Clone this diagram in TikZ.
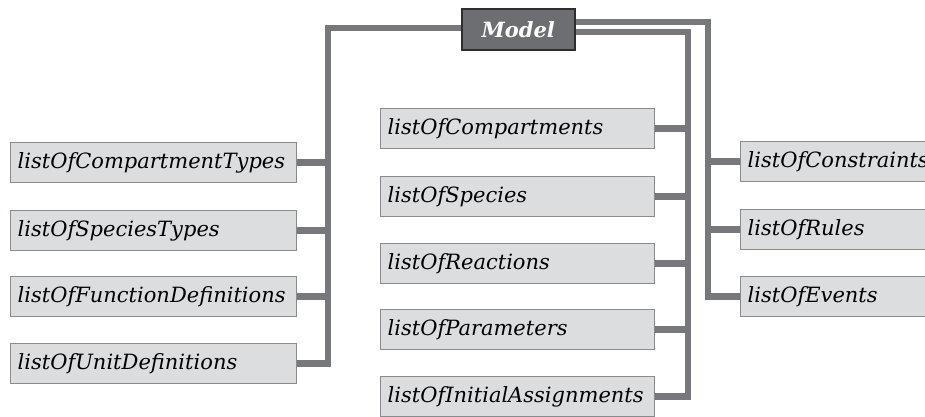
\documentclass[tikz,border=0pt]{standalone}
\usepackage{fontspec}
\newfontfamily\boxfont{DejaVu Serif}
\definecolor{busgray}{HTML}{77787B}
\definecolor{boxfill}{HTML}{DCDDDE}
\definecolor{boxline}{HTML}{8A8B8D}
\definecolor{modelfill}{HTML}{6D6E71}
\definecolor{modelline}{HTML}{2E2E2E}
\tikzset{
  lbox/.style={draw=boxline, fill=boxfill, line width=1.3pt, minimum height=40pt,
    inner xsep=7pt, inner ysep=0pt, align=left, anchor=north west,
    font=\boxfont\itshape\fontsize{21}{24}\selectfont},
  conn/.style={draw=busgray, line width=6.5pt, line join=miter},
  modelbox/.style={draw=modelline, fill=modelfill, line width=1.5pt,
    minimum width=113pt, minimum height=41pt, anchor=north west, inner sep=0pt,
    text=white, font=\boxfont\bfseries\itshape\fontsize{21}{24}\selectfont}
}
\begin{document}
\begin{tikzpicture}[x=1pt,y=-1pt]
\useasboundingbox (0,0) rectangle (925,416);
\clip (0,0) rectangle (925,416);
\fill[white] (0,0) rectangle (925,416);
% Model
\node[modelbox] (model) at (461,8) {Model};
% left column
\node[lbox, text width=272pt] (ct) at (10,142) {listOfCompartmentTypes};
\node[lbox, text width=272pt] (st) at (10,210) {listOfSpeciesTypes};
\node[lbox, text width=272pt] (fd) at (10,276) {listOfFunctionDefinitions};
\node[lbox, text width=272pt] (ud) at (10,343) {listOfUnitDefinitions};
% middle column
\node[lbox, text width=260pt] (co) at (380,108) {listOfCompartments};
\node[lbox, text width=260pt] (sp) at (380,176) {listOfSpecies};
\node[lbox, text width=260pt] (re) at (380,243) {listOfReactions};
\node[lbox, text width=260pt] (pa) at (380,309) {listOfParameters};
\node[lbox, text width=260pt] (ia) at (380,376) {listOfInitialAssignments};
% right column
\node[lbox, text width=206pt] (cs) at (740,141) {listOfConstraints};
\node[lbox, text width=206pt] (ru) at (740,209) {listOfRules};
\node[lbox, text width=206pt] (ev) at (740,276) {listOfEvents};
% bus coordinates
\coordinate (lbus) at (328,28);
\coordinate (mbus) at (688,32);
\coordinate (rbus) at (708,22);
% left bus
\draw[conn] (model.west |- lbus) -- (lbus) -- (lbus |- ud.east) -- (ud.east);
\draw[conn] (ct.east) -- (ct.east -| lbus);
\draw[conn] (st.east) -- (st.east -| lbus);
\draw[conn] (fd.east) -- (fd.east -| lbus);
% middle bus
\draw[conn] (model.east |- mbus) -- (mbus) -- (mbus |- ia.east) -- (ia.east);
\draw[conn] (co.east) -- (co.east -| mbus);
\draw[conn] (sp.east) -- (sp.east -| mbus);
\draw[conn] (re.east) -- (re.east -| mbus);
\draw[conn] (pa.east) -- (pa.east -| mbus);
% right bus
\draw[conn] (model.east |- rbus) -- (rbus) -- (rbus |- ev.west) -- (ev.west);
\draw[conn] (cs.west) -- (cs.west -| rbus);
\draw[conn] (ru.west) -- (ru.west -| rbus);
% redraw model on top
\node[modelbox] at (461,8) {Model};
\end{tikzpicture}
\end{document}
